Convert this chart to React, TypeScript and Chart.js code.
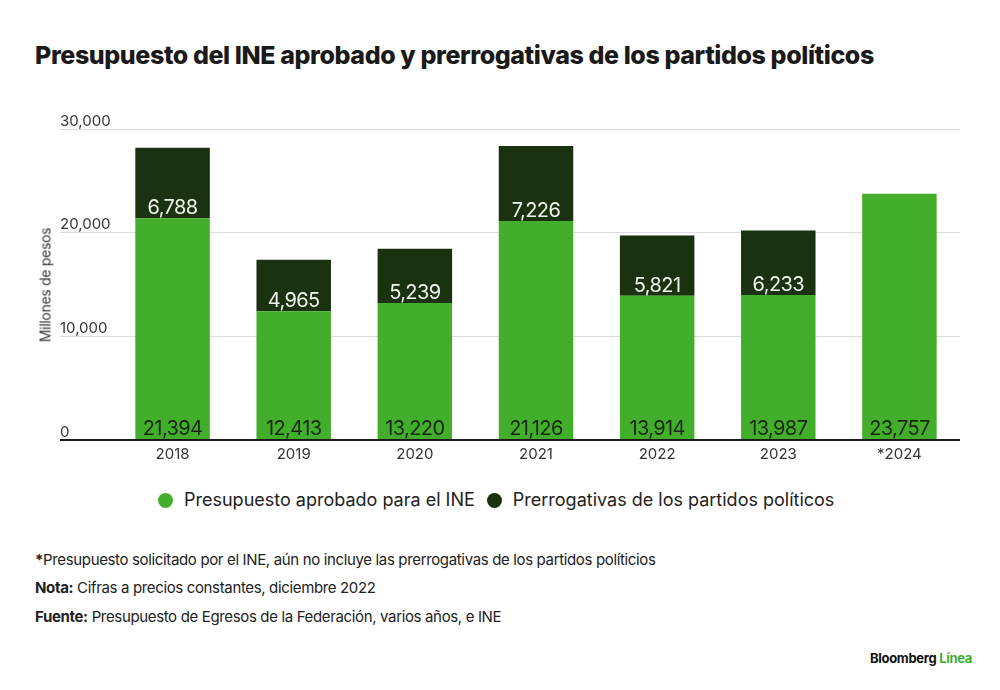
import React, { useEffect, useRef } from "react";
import { Chart, registerables } from "chart.js";

Chart.register(...registerables);

const categories = ["2018", "2019", "2020", "2021", "2022", "2023", "*2024"];
const presupuestoINE = [21394, 12413, 13220, 21126, 13914, 13987, 23757];
const prerrogativas = [6788, 4965, 5239, 7226, 5821, 6233, null];
const yTicks = [0, 10000, 20000, 30000];

const seriesNames = ["Presupuesto aprobado para el INE", "Prerrogativas de los partidos políticos"];
const LIGHT = "#43ae2b";
const DARK = "#1a3210";
const FONT = "Inter, 'Noto Sans', sans-serif";

const fmt = (v: number) => v.toLocaleString("en-US");

const valueLabels = {
  id: "valueLabels",
  afterDatasetsDraw(chart: any) {
    const ctx = chart.ctx;
    ctx.save();
    ctx.textAlign = "center";
    ctx.textBaseline = "alphabetic";
    try {
      (ctx as any).letterSpacing = "-0.6px";
    } catch (e) {}
    chart.data.datasets.forEach((ds: any, di: number) => {
      const meta = chart.getDatasetMeta(di);
      meta.data.forEach((bar: any, i: number) => {
        const v = ds.data[i];
        if (v === null || v === undefined) return;
        const props = bar.getProps(["x", "y", "base"], true);
        ctx.font = `400 20px ${FONT}`;
        ctx.fillStyle = di === 0 ? "#16280e" : "#eef5ea";
        ctx.fillText(fmt(v), props.x, props.base - 4);
      });
    });
    ctx.restore();
  },
};

function ChartCanvas() {
  const ref = useRef<HTMLCanvasElement | null>(null);
  useEffect(() => {
    if (!ref.current) return;
    const chart = new Chart(ref.current, {
      type: "bar",
      data: {
        labels: categories,
        datasets: [
          {
            label: seriesNames[0],
            data: presupuestoINE,
            backgroundColor: LIGHT,
            borderWidth: 0,
          },
          {
            label: seriesNames[1],
            data: prerrogativas as any,
            backgroundColor: DARK,
            borderWidth: 0,
          },
        ],
      },
      options: {
        animation: false,
        responsive: false,
        maintainAspectRatio: false,
        devicePixelRatio: 1,
        layout: { padding: { left: 60, right: 40, top: 129, bottom: 12 } },
        plugins: {
          legend: { display: false },
          tooltip: { enabled: false },
          title: { display: false },
        },
        datasets: {
          bar: { categoryPercentage: 1, barPercentage: 0.615 },
        },
        scales: {
          x: {
            stacked: true,
            grid: { display: false, drawTicks: false },
            border: { display: false },
            ticks: {
              color: "#333",
              font: { family: FONT, size: 15 },
              padding: 5,
            },
          },
          y: {
            stacked: true,
            min: 0,
            max: 30000,
            afterBuildTicks: (scale: any) => {
              scale.ticks = yTicks.map((v) => ({ value: v }));
            },
            afterFit: (scale: any) => {
              scale.width = 52;
            },
            border: { display: false },
            grid: {
              drawTicks: true,
              tickLength: 52,
              color: (c: any) => (c.tick && c.tick.value === 0 ? "#1a1a1a" : "#dcdcdc"),
              lineWidth: (c: any) => (c.tick && c.tick.value === 0 ? 2 : 1),
            },
            ticks: {
              crossAlign: "far",
              labelOffset: -8,
              padding: 0,
              color: "#333",
              font: { family: FONT, size: 15 },
              callback: (v: any) => fmt(Number(v)),
            },
          },
        },
      },
      plugins: [valueLabels],
    });
    return () => chart.destroy();
  }, []);
  return (
    <canvas
      ref={ref}
      width={1000}
      height={480}
      style={{ position: "absolute", left: 0, top: 0, width: 1000, height: 480 }}
    />
  );
}

export default function App() {
  const dot = (color: string): React.CSSProperties => ({
    display: "inline-block",
    width: 15,
    height: 15,
    borderRadius: "50%",
    background: color,
    marginRight: 11,
  });
  const noteStyle: React.CSSProperties = {
    position: "absolute",
    left: 35,
    fontSize: 15,
    letterSpacing: "-0.35px",
    color: "#222",
    whiteSpace: "nowrap",
    lineHeight: "18px",
  };
  return (
    <div
      style={{
        position: "absolute",
        left: 0,
        top: 0,
        width: 1000,
        height: 690,
        background: "#fff",
        fontFamily: FONT,
        overflow: "hidden",
      }}
    >
      <div
        style={{
          position: "absolute",
          left: 35,
          top: 40,
          fontSize: 25,
          fontWeight: 800,
          letterSpacing: "-0.4px",
          color: "#1a1a1a",
          whiteSpace: "nowrap",
          lineHeight: "30px",
        }}
      >
        Presupuesto del INE aprobado y prerrogativas de los partidos políticos
      </div>
      <ChartCanvas />
      <div
        style={{
          position: "absolute",
          left: 45,
          top: 285,
          transform: "translate(-50%, -50%) rotate(-90deg)",
          fontSize: 14,
          color: "#333",
          whiteSpace: "nowrap",
          letterSpacing: "-0.3px",
        }}
      >
        Millones de pesos
      </div>
      <div
        style={{
          position: "absolute",
          left: 158,
          top: 488,
          display: "flex",
          alignItems: "center",
          fontSize: 18,
          letterSpacing: "0px",
          color: "#222",
          whiteSpace: "nowrap",
          lineHeight: "24px",
        }}
      >
        <span style={dot(LIGHT)} />
        <span style={{ marginRight: 12 }}>{seriesNames[0]}</span>
        <span style={dot(DARK)} />
        <span>{seriesNames[1]}</span>
      </div>
      <div style={{ ...noteStyle, top: 551 }}>
        <b>*</b>Presupuesto solicitado por el INE, aún no incluye las prerrogativas de los partidos políticios
      </div>
      <div style={{ ...noteStyle, top: 579 }}>
        <b>Nota:</b> Cifras a precios constantes, diciembre 2022
      </div>
      <div style={{ ...noteStyle, top: 608 }}>
        <b>Fuente:</b> Presupuesto de Egresos de la Federación, varios años, e INE
      </div>
      <div
        style={{
          position: "absolute",
          left: 870,
          top: 650,
          fontSize: 13,
          fontWeight: 700,
          color: "#111",
          whiteSpace: "nowrap",
          letterSpacing: "-0.3px",
        }}
      >
        Bloomberg <span style={{ color: "#3fae2f" }}>Línea</span>
      </div>
    </div>
  );
}
